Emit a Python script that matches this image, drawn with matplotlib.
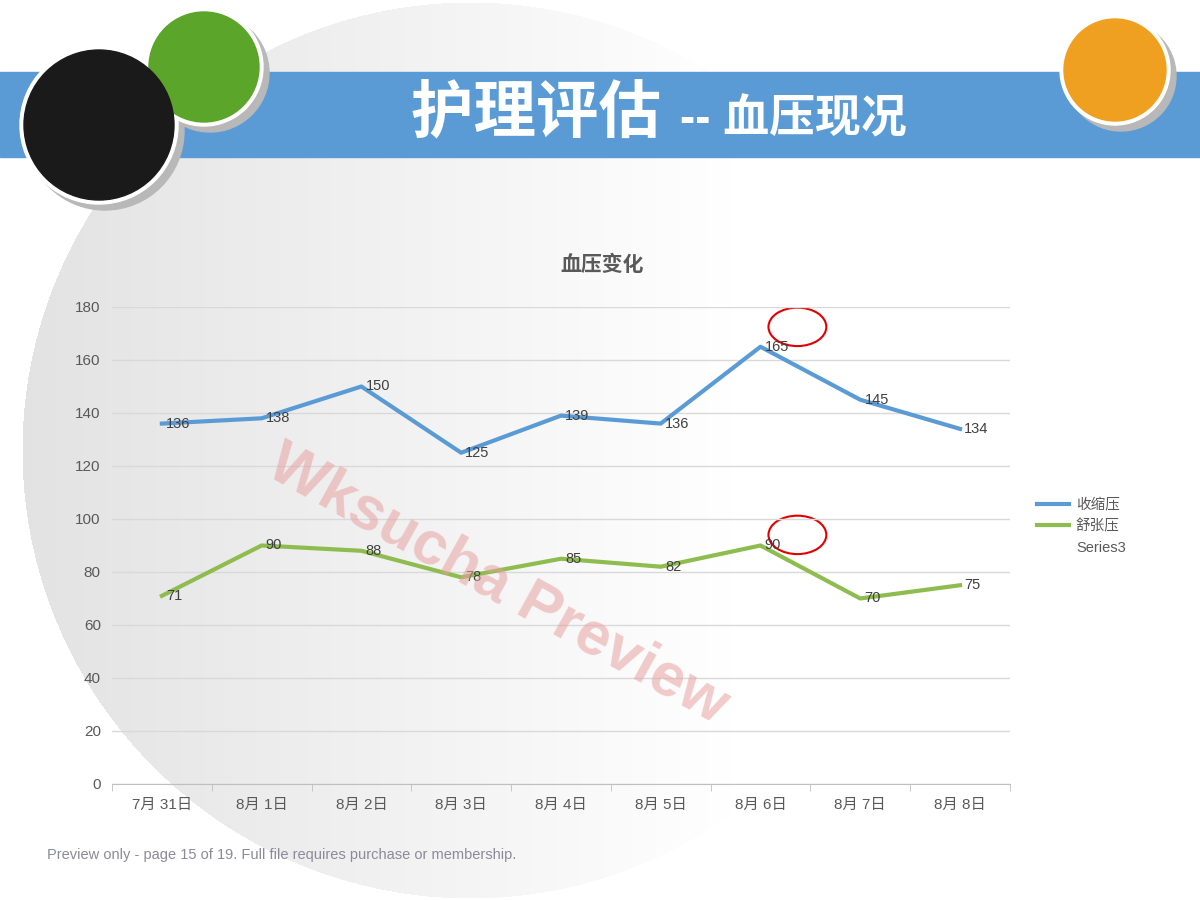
import matplotlib
matplotlib.use("Agg")
import matplotlib.pyplot as plt
import numpy as np
from matplotlib.patches import Circle, Ellipse, Rectangle

plt.rcParams['font.family'] = ['Liberation Sans', 'Noto Sans CJK SC', 'DejaVu Sans']

dates = ["7月 31日", "8月 1日", "8月 2日", "8月 3日", "8月 4日", "8月 5日", "8月 6日", "8月 7日", "8月 8日"]
systolic = [136, 138, 150, 125, 139, 136, 165, 145, 134]
diastolic = [71, 90, 88, 78, 85, 82, 90, 70, 75]

fig = plt.figure(figsize=(12, 9), dpi=100)

# background with soft gray circle
bg = fig.add_axes([0, 0, 1, 1])
bg.set_xlim(0, 1200)
bg.set_ylim(900, 0)
bg.axis("off")
yy, xx = np.mgrid[0:900, 0:1200]
d = np.hypot(xx - 470, yy - 450)
shade = np.where(d < 448, 0.89 + 0.11 * np.clip((xx - 30) / 700, 0, 1), 1.0)
bg.imshow(np.dstack([shade] * 3), extent=(0, 1200, 900, 0), zorder=0)
bg.add_patch(Rectangle((0, 72), 1200, 85, color="#5b9bd5", zorder=1))
bg.text(678, 115, "护理评估 ", fontsize=45, fontweight="bold", color="white",
        ha="right", va="center", zorder=2)
bg.text(680, 120, "-- 血压现况", fontsize=33, fontweight="bold", color="white",
        ha="left", va="center", zorder=2)
for cx, cy, r, col in [(204, 67, 55, "#5aa52a"), (99, 125, 75, "#1a1a1a"), (1115, 70, 51, "#f0a020")]:
    bg.add_patch(Circle((cx + 6, cy + 6), r + 4, color="#b8b8b8", zorder=2))
    bg.add_patch(Circle((cx, cy), r + 4, color="white", zorder=3))
    bg.add_patch(Circle((cx, cy), r, color=col, zorder=4))
bg.text(47, 855, "Preview only - page 15 of 19. Full file requires purchase or membership.",
        fontsize=10.5, color="#8a8a9a", va="center", zorder=2)

ax = fig.add_axes([0.0933, 0.1289, 0.7483, 0.53])
ax.patch.set_alpha(0)
x = np.arange(len(dates))
ax.plot(x, systolic, color="#5b9bd5", lw=3, label="收缩压")
ax.plot(x, diastolic, color="#8fbc4f", lw=3, label="舒张压")
ax.plot([], [], color="none", label="Series3")
for xi, s, dv in zip(x, systolic, diastolic):
    ax.annotate(str(s), (xi, s), xytext=(3, 0), textcoords="offset points",
                fontsize=10.5, color="#404040", va="center")
    ax.annotate(str(dv), (xi, dv), xytext=(3, 0), textcoords="offset points",
                fontsize=10.5, color="#404040", va="center")
for ey in [172.5, 94]:
    ax.add_patch(Ellipse((6.37, ey), 0.58, 14.5, fill=False, ec="#e00000", lw=1.5))
ax.set_xlim(-0.5, 8.5)
ax.set_ylim(0, 180)
ax.set_yticks(range(0, 181, 20))
ax.set_xticks(x)
ax.set_xticklabels(dates)
ax.set_xticks(np.arange(-0.5, 9, 1), minor=True)
ax.tick_params(axis="x", which="major", length=0, pad=10)
ax.tick_params(axis="x", which="minor", length=5, color="#bfbfbf")
ax.tick_params(axis="y", length=0, pad=8)
ax.tick_params(colors="#595959", labelsize=11)
ax.grid(axis="y", color="#d9d9d9", lw=1)
for sp in ["top", "right", "left"]:
    ax.spines[sp].set_visible(False)
ax.spines["bottom"].set_color("#bfbfbf")
fig.text(602 / 1200, 1 - 265 / 900, "血压变化", fontsize=15, fontweight="bold",
         color="#595959", ha="center", va="center")
ax.legend(loc="center left", bbox_to_anchor=(1.015, 0.54), frameon=False,
          fontsize=10.5, labelcolor="#595959", handlelength=2.2, handletextpad=0.5,
          labelspacing=0.5)

fig.text(0.415, 0.35, "Wksucha Preview", fontsize=44, fontweight="bold", color="#e8a0a0",
         alpha=0.55, rotation=-29, ha="center", va="center")

fig.savefig("out.png", dpi=100)
